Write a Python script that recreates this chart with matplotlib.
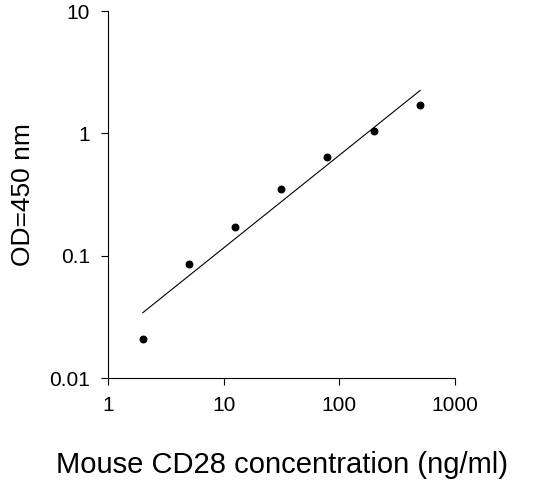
import numpy as np
import matplotlib
matplotlib.use("Agg")
import matplotlib.pyplot as plt
from matplotlib.ticker import FixedLocator, FixedFormatter, NullLocator

plt.rcParams['font.family'] = ['Liberation Sans', 'DejaVu Sans']

conc = [2, 5, 12.5, 31.25, 78, 200, 500]
od = [0.021, 0.085, 0.17, 0.35, 0.64, 1.05, 1.7]
xticks = [1, 10, 100, 1000]
xlabels = ['1', '10', '100', '1000']
yticks = [0.01, 0.1, 1, 10]
ylabels = ['0.01', '0.1', '1', '10']

fig = plt.figure(figsize=(5.34, 4.94), dpi=100)
ax = fig.add_axes([108/534, 1-378/494, (455-108)/534, (378-11)/494])
ax.scatter(conc, od, s=22, color='black', zorder=3)
lx = np.log10(conc); ly = np.log10(od)
k, b = np.polyfit(lx, ly, 1)
xs = np.array([lx[0], lx[-1]])
ax.plot(10**xs, 10**(k*xs+b), color='black', lw=0.8)
ax.set_xscale('log'); ax.set_yscale('log')
ax.set_xlim(1, 1000); ax.set_ylim(0.01, 10)
ax.xaxis.set_major_locator(FixedLocator(xticks)); ax.xaxis.set_major_formatter(FixedFormatter(xlabels))
ax.yaxis.set_major_locator(FixedLocator(yticks)); ax.yaxis.set_major_formatter(FixedFormatter(ylabels))
ax.xaxis.set_minor_locator(NullLocator()); ax.yaxis.set_minor_locator(NullLocator())
for s in ['top', 'right']:
    ax.spines[s].set_visible(False)
ax.tick_params(direction='out', length=5, labelsize=15, pad=8)
ax.set_xlabel('Mouse CD28 concentration (ng/ml)', fontsize=21, labelpad=26)
ax.set_ylabel('OD=450 nm', fontsize=19, labelpad=10)
fig.savefig('out.png', dpi=100)
